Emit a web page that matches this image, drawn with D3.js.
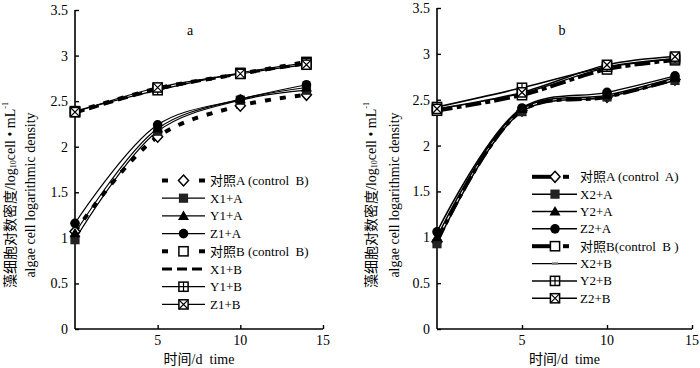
<!DOCTYPE html>
<html><head><meta charset="utf-8">
<script src="https://cdn.jsdelivr.net/npm/d3@7"></script>
<style>body{margin:0;background:#fff}svg{display:block}</style>
</head><body>
<svg id="c" width="700" height="368"></svg>
<script>
// ---- data ----
const days = [0, 5, 10, 14];
const yTicks = [0, 0.5, 1, 1.5, 2, 2.5, 3, 3.5];
const xTicks = [5, 10, 15];

// panel a
const aCtrlA = [1.07, 2.11, 2.45, 2.57];
const aX1A   = [0.98, 2.17, 2.51, 2.62];
const aY1A   = [1.05, 2.20, 2.52, 2.65];
const aZ1A   = [1.16, 2.24, 2.52, 2.68];
const aCtrlB = [2.38, 2.64, 2.80, 2.93];
const aX1B   = [2.37, 2.63, 2.80, 2.91];
const aY1B   = [2.39, 2.62, 2.81, 2.92];
const aZ1B   = [2.38, 2.65, 2.80, 2.90];
const aLabels = ["对照A (control  B)", "X1+A", "Y1+A", "Z1+A", "对照B (control  B)", "X1+B", "Y1+B", "Z1+B"];

// panel b
const bCtrlA = [0.95, 2.38, 2.53, 2.72];
const bX2A   = [0.93, 2.37, 2.53, 2.71];
const bY2A   = [1.00, 2.40, 2.55, 2.74];
const bZ2A   = [1.06, 2.41, 2.58, 2.76];
const bCtrlB = [2.38, 2.55, 2.83, 2.93];
const bX2B   = [2.40, 2.57, 2.85, 2.94];
const bY2B   = [2.42, 2.63, 2.86, 2.95];
const bZ2B   = [2.40, 2.58, 2.88, 2.97];
const bLabels = ["对照A (control  A)", "X2+A", "Y2+A", "Z2+A", "对照B(control  B )", "X2+B", "Y2+B", "Z2+B"];

const serif = "'Liberation Serif','Times New Roman','Noto Sans CJK SC',serif";
const svg = d3.select("#c");

function marker(g, type, x, y) {
  const s = 4.6;
  if (type === "diamond") {
    g.append("path").attr("d", `M${x},${y-5.5}L${x+5},${y}L${x},${y+5.5}L${x-5},${y}Z`)
      .attr("fill", "#fff").attr("stroke", "#000").attr("stroke-width", 1.5);
  } else if (type === "square") {
    g.append("rect").attr("x", x-s).attr("y", y-s).attr("width", 2*s).attr("height", 2*s).attr("fill", "#222");
  } else if (type === "triangle") {
    g.append("path").attr("d", `M${x},${y-5.5}L${x+5.5},${y+4}L${x-5.5},${y+4}Z`).attr("fill", "#000");
  } else if (type === "circle") {
    g.append("circle").attr("cx", x).attr("cy", y).attr("r", 4.8).attr("fill", "#000");
  } else if (type === "osquare" || type === "plus" || type === "xbox") {
    g.append("rect").attr("x", x-s).attr("y", y-s).attr("width", 2*s).attr("height", 2*s)
      .attr("fill", "#fff").attr("stroke", "#000").attr("stroke-width", 1.5);
    if (type === "plus") {
      g.append("path").attr("d", `M${x-s},${y}H${x+s}M${x},${y-s}V${y+s}`).attr("stroke", "#000").attr("stroke-width", 1.2);
    } else if (type === "xbox") {
      g.append("path").attr("d", `M${x-s},${y-s}L${x+s},${y+s}M${x+s},${y-s}L${x-s},${y+s}`).attr("stroke", "#000").attr("stroke-width", 1.2);
    }
  } else if (type === "dash") {
    g.append("rect").attr("x", x-3).attr("y", y-1.2).attr("width", 6).attr("height", 2.4).attr("fill", "#777");
  }
}

function panel(cfg) {
  const x = d3.scaleLinear().domain([0, 15]).range([cfg.x0, cfg.x1]);
  const y = d3.scaleLinear().domain([0, 3.5]).range([329, cfg.yTop]);
  const g = svg.append("g");

  // axes
  const yAx = g.append("g").attr("transform", `translate(${cfg.x0},0)`)
    .call(d3.axisRight(y).tickValues(yTicks).tickSize(4).tickFormat(() => ""));
  const xAx = g.append("g").attr("transform", `translate(0,329)`)
    .call(d3.axisTop(x).tickValues(xTicks).tickSize(4).tickFormat(() => ""));
  [yAx, xAx].forEach(a => {
    a.select(".domain").attr("stroke", "#000").attr("stroke-width", 1.6);
    a.selectAll(".tick line").attr("stroke", "#000").attr("stroke-width", 1.4);
  });
  yAx.select(".domain").attr("d", `M0,${y(3.5)}V329`);
  xAx.select(".domain").attr("d", `M${cfg.x0},0H${x(15)}`);

  g.selectAll(".ytl").data(yTicks).join("text")
    .attr("x", cfg.x0 - 7).attr("y", d => y(d) + 5).attr("text-anchor", "end")
    .attr("font-family", serif).attr("font-size", 14).text(d => d);
  g.selectAll(".xtl").data(xTicks).join("text")
    .attr("x", d => x(d)).attr("y", 345).attr("text-anchor", "middle")
    .attr("font-family", serif).attr("font-size", 14).text(d => d);

  // titles
  g.append("text").attr("x", cfg.labelX).attr("y", 35).attr("text-anchor", "middle")
    .attr("font-family", serif).attr("font-size", 14).text(cfg.label);
  g.append("text").attr("x", (cfg.x0 + x(15)) / 2).attr("y", 364).attr("text-anchor", "middle")
    .attr("font-family", serif).attr("font-size", 14).attr("xml:space", "preserve").text("时间/d  time");

  const t1 = g.append("text").attr("transform", `translate(${cfg.t1x},195) rotate(-90)`)
    .attr("text-anchor", "middle").attr("dominant-baseline", "central")
    .attr("font-family", serif).attr("font-size", 14);
  t1.append("tspan").text("藻细胞对数密度/log");
  t1.append("tspan").attr("font-size", 8).attr("dy", 3).text("10");
  t1.append("tspan").attr("dy", -3).text("cell • mL");
  t1.append("tspan").attr("font-size", 8).attr("dy", -5).text("-1");
  g.append("text").attr("transform", `translate(${cfg.t2x},195) rotate(-90)`)
    .attr("text-anchor", "middle").attr("dominant-baseline", "central")
    .attr("font-family", serif).attr("font-size", 14).text("algae cell logarithmic density");

  const line = d3.line().x((d, i) => x(days[i])).y(d => y(d)).curve(d3.curveCatmullRom.alpha(0.5));

  cfg.series.forEach(s => {
    g.append("path").attr("d", line(s.values)).attr("fill", "none")
      .attr("stroke", "#000").attr("stroke-width", s.w).attr("stroke-dasharray", s.dash || null);
  });
  cfg.series.forEach(s => {
    s.values.forEach((v, i) => marker(g, s.m, x(days[i]), y(v)));
  });

  // legend
  cfg.series.forEach((s, i) => {
    const ly = cfg.legY + i * cfg.legStep;
    if (s.legDash) {
      s.legDash.forEach(seg => {
        g.append("line").attr("x1", seg[0]).attr("x2", seg[1]).attr("y1", ly).attr("y2", ly)
          .attr("stroke", "#000").attr("stroke-width", seg[2]);
      });
    } else {
      g.append("line").attr("x1", cfg.legX0).attr("x2", cfg.legX1).attr("y1", ly).attr("y2", ly)
        .attr("stroke", "#000").attr("stroke-width", s.w).attr("stroke-dasharray", s.dash || null);
    }
    marker(g, s.m, cfg.legM, ly);
    g.append("text").attr("x", cfg.legT).attr("y", ly + 4.5).attr("font-family", serif)
      .attr("font-size", 13).attr("xml:space", "preserve").text(cfg.labels[i]);
  });
}

panel({
  x0: 75, x1: 323, yTop: 10, label: "a", labelX: 190, t1x: 10, t2x: 30,
  legY: 180.5, legStep: 17.7, legX0: 162, legX1: 205, legM: 183.5, legT: 210,
  labels: aLabels,
  series: [
    { values: aCtrlA, m: "diamond", w: 4, dash: "6,9", legDash: [[162,168,4],[199,205,4]] },
    { values: aX1A, m: "square", w: 1.2 },
    { values: aY1A, m: "triangle", w: 1.2 },
    { values: aZ1A, m: "circle", w: 1.2 },
    { values: aCtrlB, m: "osquare", w: 4, dash: "6,9", legDash: [[162,168,4],[199,205,4]] },
    { values: aX1B, m: "none", w: 3, dash: "10,5" },
    { values: aY1B, m: "plus", w: 1.2 },
    { values: aZ1B, m: "xbox", w: 1.2 }
  ]
});

panel({
  x0: 437, x1: 692, yTop: 8, label: "b", labelX: 562, t1x: 371, t2x: 394,
  legY: 176.8, legStep: 17.35, legX0: 532, legX1: 577, legM: 555, legT: 580,
  labels: bLabels,
  series: [
    { values: bCtrlA, m: "diamond", w: 3.5, dash: "16,4,5,4", legDash: [[532,553,4],[563,569,4]] },
    { values: bX2A, m: "square", w: 1.5 },
    { values: bY2A, m: "triangle", w: 1.5 },
    { values: bZ2A, m: "circle", w: 1.5 },
    { values: bCtrlB, m: "osquare", w: 3.5, dash: "16,4,5,4", legDash: [[532,553,4],[563,569,4]] },
    { values: bX2B, m: "dash", w: 1.2 },
    { values: bY2B, m: "plus", w: 1.5 },
    { values: bZ2B, m: "xbox", w: 1.5 }
  ]
});
</script>
</body></html>
